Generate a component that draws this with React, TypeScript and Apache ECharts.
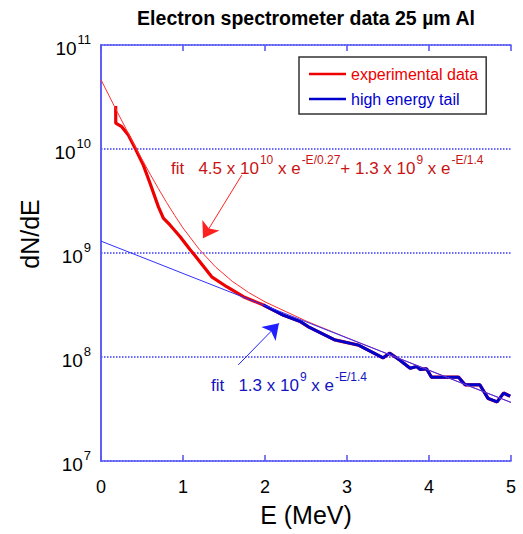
import React, { useEffect, useRef } from "react";
import * as echarts from "echarts";

// Experimental spectrum, low-energy part (E in MeV, dN/dE)
const lowE = [0.179, 0.18, 0.252, 0.333, 0.415, 0.516, 0.598, 0.699, 0.76, 0.841, 0.963, 1.085, 1.126, 1.35, 1.533, 1.736];
const lowN = [2.59e10, 1.77e10, 1.64e10, 1.36e10, 1.02e10, 7.0e9, 4.68e9, 2.79e9, 2.16e9, 1.86e9, 1.44e9, 1.08e9, 9.9e8, 5.9e8, 4.74e8, 3.8e8];

// High energy tail of the experimental spectrum
const tailE = [1.98, 2.22, 2.43, 2.53, 2.85, 3.14, 3.44, 3.52, 3.646, 3.77, 3.85, 3.89, 3.97, 4.03, 4.36, 4.44, 4.62, 4.72, 4.83, 4.91, 4.99];
const tailN = [3.16e8, 2.53e8, 2.19e8, 1.95e8, 1.46e8, 1.3e8, 9.8e7, 1.09e8, 9.3e7, 7.8e7, 8.1e7, 7.6e7, 7.7e7, 6.4e7, 6.4e7, 5.4e7, 5.4e7, 4.0e7, 3.7e7, 4.5e7, 4.2e7];

// Two-temperature fit curve
const fitRedE = [0, 0.1, 0.2, 0.3, 0.4, 0.5, 0.6, 0.7, 0.8, 0.9, 1.0, 1.2, 1.4, 1.6, 1.8, 2.0, 2.5, 3.0, 3.5, 4.0, 4.5, 5.0];
const fitRedN = [4.63e10, 3.23e10, 2.26e10, 1.59e10, 1.12e10, 7.97e9, 5.72e9, 4.16e9, 3.06e9, 2.29e9, 1.74e9, 1.08e9, 7.3e8, 5.35e8, 4.17e8, 3.39e8, 2.22e8, 1.53e8, 1.067e8, 7.46e7, 5.22e7, 3.66e7];

// Single-temperature fit of the tail (thin blue line)
const fitBlueE = [0, 0.5, 1.0, 1.5, 2.0, 2.5, 3.0, 3.5, 4.0, 4.5, 5.0];
const fitBlueN = [1.3e9, 9.1e8, 6.36e8, 4.45e8, 3.12e8, 2.18e8, 1.525e8, 1.067e8, 7.46e7, 5.22e7, 3.66e7];

// Annotation arrows (start -> tip) in data coordinates
const redArrow = [[1.716, 5.6e9], [1.244, 1.39e9]];
const blueArrow = [[1.674, 8.4e7], [2.17, 2.11e8]];

const xTicks = [0, 1, 2, 3, 4, 5];

const FONT = '"Liberation Sans", Arial, Helvetica, sans-serif';
const FRAME = "#5a5af5";
const GRID = "#3a3aff";
const RED = "#ee0000";
const BLUE = "#0000cc";
const RED_TXT = "#c81414";
const BLUE_TXT = "#1414c0";

const zip = (a: number[], b: number[]) => a.map((v, i) => [v, b[i]]);

export default function App() {
  const ref = useRef<HTMLDivElement>(null);
  useEffect(() => {
    if (!ref.current) return;
    const chart = echarts.init(ref.current, null, { renderer: "svg" });
    const expData = zip(lowE.concat(tailE), lowN.concat(tailN));
    const axisRich = {
      b: { fontSize: 19, fontFamily: FONT, color: "#000", lineHeight: 25, verticalAlign: "bottom" },
      s: { fontSize: 13, fontFamily: FONT, color: "#000", lineHeight: 25, verticalAlign: "top", padding: [0, 0, 0, 1] },
    };
    const gRich = (fill: string) => ({
      b: { fontSize: 17, fontFamily: FONT, fill, lineHeight: 23, verticalAlign: "bottom" },
      s: { fontSize: 12, fontFamily: FONT, fill, lineHeight: 23, verticalAlign: "top", padding: [0, 0, 0, 1] },
    });
    const frameAxisLine = () => ({ show: true, lineStyle: { color: FRAME, width: 1.6 } });
    const frameTick = () => ({ show: true, inside: true, length: 6, lineStyle: { color: FRAME, width: 1.6 } });
    chart.setOption({
      animation: false,
      grid: { left: 101, right: 12, top: 45, bottom: 73, show: false },
      legend: {
        data: [
          { name: "experimental data", icon: "rect", textStyle: { color: RED } },
          { name: "high energy tail", icon: "rect", textStyle: { color: BLUE } },
        ],
        orient: "vertical",
        left: 299,
        top: 57,
        padding: [8, 8, 6, 10],
        itemWidth: 37,
        itemHeight: 2.5,
        itemGap: 7,
        borderColor: "#333",
        borderWidth: 1.5,
        textStyle: { fontSize: 16, fontFamily: FONT, lineHeight: 18 },
        selectedMode: false,
      },
      xAxis: [
        {
          type: "value",
          min: 0,
          max: 5,
          interval: 1,
          name: "E (MeV)",
          nameLocation: "middle",
          nameGap: 41,
          nameTextStyle: { fontSize: 25, fontFamily: FONT, color: "#000" },
          axisLine: frameAxisLine(),
          axisTick: frameTick(),
          axisLabel: { margin: 17, fontSize: 18, fontFamily: FONT, color: "#000", customValues: xTicks },
          splitLine: { show: false },
        },
        {
          type: "value",
          position: "top",
          min: 0,
          max: 5,
          interval: 1,
          axisLine: frameAxisLine(),
          axisTick: frameTick(),
          axisLabel: { show: false },
          splitLine: { show: false },
        },
      ],
      yAxis: [
        {
          type: "log",
          logBase: 10,
          min: 1e7,
          max: 1e11,
          axisLine: frameAxisLine(),
          axisTick: { show: false },
          minorTick: { show: false },
          axisLabel: {
            margin: 10,
            formatter: (v: number) => `{b|10}{s|${Math.round(Math.log10(v))}}`,
            rich: axisRich,
          },
          splitLine: {
            show: true,
            lineStyle: { color: GRID, type: [1.5, 1.5], width: 1.5 },
          },
        },
        {
          type: "log",
          logBase: 10,
          min: 1e7,
          max: 1e11,
          position: "right",
          axisLine: frameAxisLine(),
          axisTick: { show: false },
          axisLabel: { show: false },
          splitLine: { show: false },
        },
      ],
      series: [
        {
          name: "experimental data",
          type: "line",
          data: expData,
          symbol: "none",
          lineStyle: { color: RED, width: 3.2 },
          itemStyle: { color: RED },
          z: 2,
        },
        {
          name: "high energy tail",
          type: "line",
          data: zip(tailE, tailN),
          symbol: "none",
          lineStyle: { color: BLUE, width: 3 },
          itemStyle: { color: BLUE },
          z: 3,
        },
        {
          name: "fit2",
          type: "line",
          data: zip(fitRedE, fitRedN),
          symbol: "none",
          lineStyle: { color: "#ff3030", width: 1 },
          z: 4,
          markLine: {
            silent: true,
            symbol: ["none", "arrow"],
            symbolSize: 15,
            label: { show: false },
            lineStyle: { color: "#ff2020", width: 1, type: "solid" },
            data: [[{ coord: redArrow[0] }, { coord: redArrow[1] }]],
          },
        },
        {
          name: "fit1",
          type: "line",
          data: zip(fitBlueE, fitBlueN),
          symbol: "none",
          lineStyle: { color: "#3030ff", width: 1 },
          z: 4,
          markLine: {
            silent: true,
            symbol: ["none", "arrow"],
            symbolSize: 15,
            label: { show: false },
            lineStyle: { color: "#2020ff", width: 1, type: "solid" },
            data: [[{ coord: blueArrow[0] }, { coord: blueArrow[1] }]],
          },
        },
      ],
      graphic: [
        {
          type: "text",
          x: 306,
          y: 18,
          style: {
            text: "Electron spectrometer data 25 µm Al",
            fill: "#000",
            font: `bold 19.5px ${FONT}`,
            textAlign: "center",
            textVerticalAlign: "middle",
          },
        },
        {
          type: "text",
          x: 30,
          y: 234,
          rotation: Math.PI / 2,
          style: {
            text: "dN/dE",
            fill: "#000",
            font: `25px ${FONT}`,
            textAlign: "center",
            textVerticalAlign: "middle",
          },
        },
        {
          type: "text",
          x: 171,
          y: 165,
          style: {
            text: "{b|fit   4.5 x 10}{s|10}{b| x e}{s|-E/0.27}{b|+ 1.3 x 10}{s|9}{b| x e}{s|-E/1.4}",
            rich: gRich(RED_TXT),
            fill: RED_TXT,
            textVerticalAlign: "middle",
          },
        },
        {
          type: "text",
          x: 211,
          y: 382,
          style: {
            text: "{b|fit   1.3 x 10}{s|9}{b| x e}{s|-E/1.4}",
            rich: gRich(BLUE_TXT),
            fill: BLUE_TXT,
            textVerticalAlign: "middle",
          },
        },
      ],
    });
    return () => chart.dispose();
  }, []);
  return <div ref={ref} style={{ width: 523, height: 534, position: "absolute", left: 0, top: 0 }} />;
}
